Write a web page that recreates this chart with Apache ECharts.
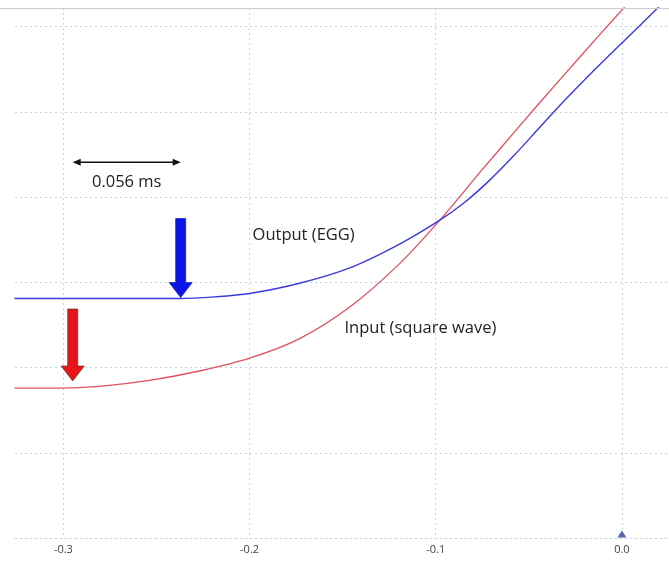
<!DOCTYPE html>
<html>
<head>
<meta charset="utf-8">
<style>
  html, body { margin: 0; padding: 0; background: #ffffff; }
  #chart { width: 669px; height: 562px; }
</style>
<script src="https://cdn.jsdelivr.net/npm/echarts@6.0.0/dist/echarts.min.js"></script>
</head>
<body>
<div id="chart"></div>
<script>
// Time axis (ms) and x tick labels
const xTicks = [-0.3, -0.2, -0.1, 0.0];

// Output (EGG) trace
const eggTime = [-0.3263, -0.2376, -0.2188, -0.2, -0.1731, -0.1462, -0.1194, -0.0978, -0.0844, -0.0710, -0.0575, -0.0441, -0.0306, -0.0172, 0.0, 0.0188, 0.0258];
const eggLevel = [2.81, 2.81, 2.83, 2.87, 2.99, 3.17, 3.45, 3.73, 3.94, 4.20, 4.50, 4.82, 5.14, 5.44, 5.81, 6.21, 6.36];

// Input (square wave) trace
const inputTime = [-0.3263, -0.3022, -0.2806, -0.2538, -0.2269, -0.2, -0.1731, -0.1462, -0.1194, -0.0978, -0.0763, -0.0548, -0.0333, -0.0118, 0.0043];
const inputLevel = [1.76, 1.76, 1.78, 1.85, 1.96, 2.11, 2.34, 2.71, 3.22, 3.73, 4.29, 4.84, 5.38, 5.91, 6.30];

// Onset times marked by the arrows, and the delay between them
const inputOnset = -0.295;
const outputOnset = -0.237;
const delayText = '0.056 ms';

const labelOutput = { text: 'Output (EGG)', t: -0.1984, v: 3.55 };
const labelInput = { text: 'Input (square wave)', t: -0.149, v: 2.46 };

const pair = (xs, ys) => xs.map((x, i) => [x, ys[i]]);

const gridColor = '#c3d5e0';
const chart = echarts.init(document.getElementById('chart'), null, { renderer: 'canvas' });

chart.setOption({
  animation: false,
  backgroundColor: '#ffffff',
  grid: { left: 15, right: 0, top: 8, bottom: 24, containLabel: false },
  xAxis: {
    type: 'value',
    min: -0.326,
    max: 0.0253,
    axisLine: { show: true, lineStyle: { color: gridColor, type: [2, 3], width: 1 } },
    axisTick: { show: false, customValues: xTicks },
    axisLabel: {
      customValues: xTicks,
      margin: 6,
      color: '#444',
      fontSize: 11,
      fontFamily: 'Open Sans',
      formatter: v => v.toFixed(1)
    },
    splitLine: { show: true, lineStyle: { color: gridColor, type: [2, 3], width: 1 } }
  },
  yAxis: {
    type: 'value',
    min: 0,
    max: 6.22,
    interval: 1,
    axisLine: { show: false },
    axisTick: { show: false },
    axisLabel: { show: false },
    splitLine: { show: true, lineStyle: { color: gridColor, type: [2, 3], width: 1 } }
  },
  series: [
    {
      name: 'Output (EGG)',
      type: 'line',
      data: pair(eggTime, eggLevel),
      smooth: 0.3,
      showSymbol: false,
      lineStyle: { color: '#3a3ae0', width: 1.4 },
      z: 3
    },
    {
      name: 'Input (square wave)',
      type: 'line',
      data: pair(inputTime, inputLevel),
      smooth: 0.3,
      showSymbol: false,
      lineStyle: { color: '#e2505e', width: 1.3 },
      z: 2,
      markPoint: {
        symbol: 'triangle',
        symbolSize: [9, 7],
        symbolOffset: [0, -4],
        itemStyle: { color: '#5a64b4' },
        label: { show: false },
        data: [{ coord: [0, 0] }]
      }
    }
  ]
});

// Annotations placed from data coordinates
const px = (t, v) => chart.convertToPixel({ gridIndex: 0 }, [t, v]);

function downArrow(tip, len, color, stroke) {
  const [x, y] = tip;
  const shaftW = 10, headW = 23, headH = 15;
  const top = y - len;
  const hb = y - headH;
  return {
    type: 'polygon',
    shape: {
      points: [
        [x - shaftW / 2, top], [x + shaftW / 2, top], [x + shaftW / 2, hb],
        [x + headW / 2, hb], [x, y], [x - headW / 2, hb], [x - shaftW / 2, hb]
      ]
    },
    style: { fill: color, stroke: stroke, lineWidth: 0.7 },
    z: 10
  };
}

const blueTip = px(outputOnset, eggLevel[0]);
const redTip = px(inputOnset, inputLevel[0]);
const spanA = px(inputOnset, 4.41);
const spanB = px(outputOnset, 4.41);
const outPos = px(labelOutput.t, labelOutput.v);
const inPos = px(labelInput.t, labelInput.v);

const textFont = '16.5px "Open Sans"';
chart.setOption({
  graphic: [
    // top frame line
    { type: 'line', shape: { x1: 0, y1: 8.5, x2: 669, y2: 8.5 }, style: { stroke: '#cccccc', lineWidth: 1 }, z: 10 },
    downArrow([blueTip[0], blueTip[1] - 1], 79, '#0a14e6', '#0a14c0'),
    downArrow([redTip[0], redTip[1] - 7], 72, '#e8141c', '#6a2a2a'),
    // delay span with arrowheads
    { type: 'line', shape: { x1: spanA[0] + 2, y1: spanA[1], x2: spanB[0] - 2, y2: spanB[1] }, style: { stroke: '#111', lineWidth: 1.3 }, z: 10 },
    { type: 'polygon', shape: { points: [[spanA[0], spanA[1]], [spanA[0] + 8, spanA[1] - 3.5], [spanA[0] + 8, spanA[1] + 3.5]] }, style: { fill: '#111' }, z: 10 },
    { type: 'polygon', shape: { points: [[spanB[0], spanB[1]], [spanB[0] - 8, spanB[1] - 3.5], [spanB[0] - 8, spanB[1] + 3.5]] }, style: { fill: '#111' }, z: 10 },
    {
      type: 'text', x: (spanA[0] + spanB[0]) / 2, y: spanA[1] + 20,
      style: { text: delayText, font: textFont, fill: '#222', align: 'center', verticalAlign: 'middle' }, z: 10
    },
    {
      type: 'text', x: outPos[0], y: outPos[1],
      style: { text: labelOutput.text, font: textFont, fill: '#222', align: 'left', verticalAlign: 'middle' }, z: 10
    },
    {
      type: 'text', x: inPos[0], y: inPos[1],
      style: { text: labelInput.text, font: textFont, fill: '#222', align: 'left', verticalAlign: 'middle' }, z: 10
    }
  ]
});
</script>
</body>
</html>
